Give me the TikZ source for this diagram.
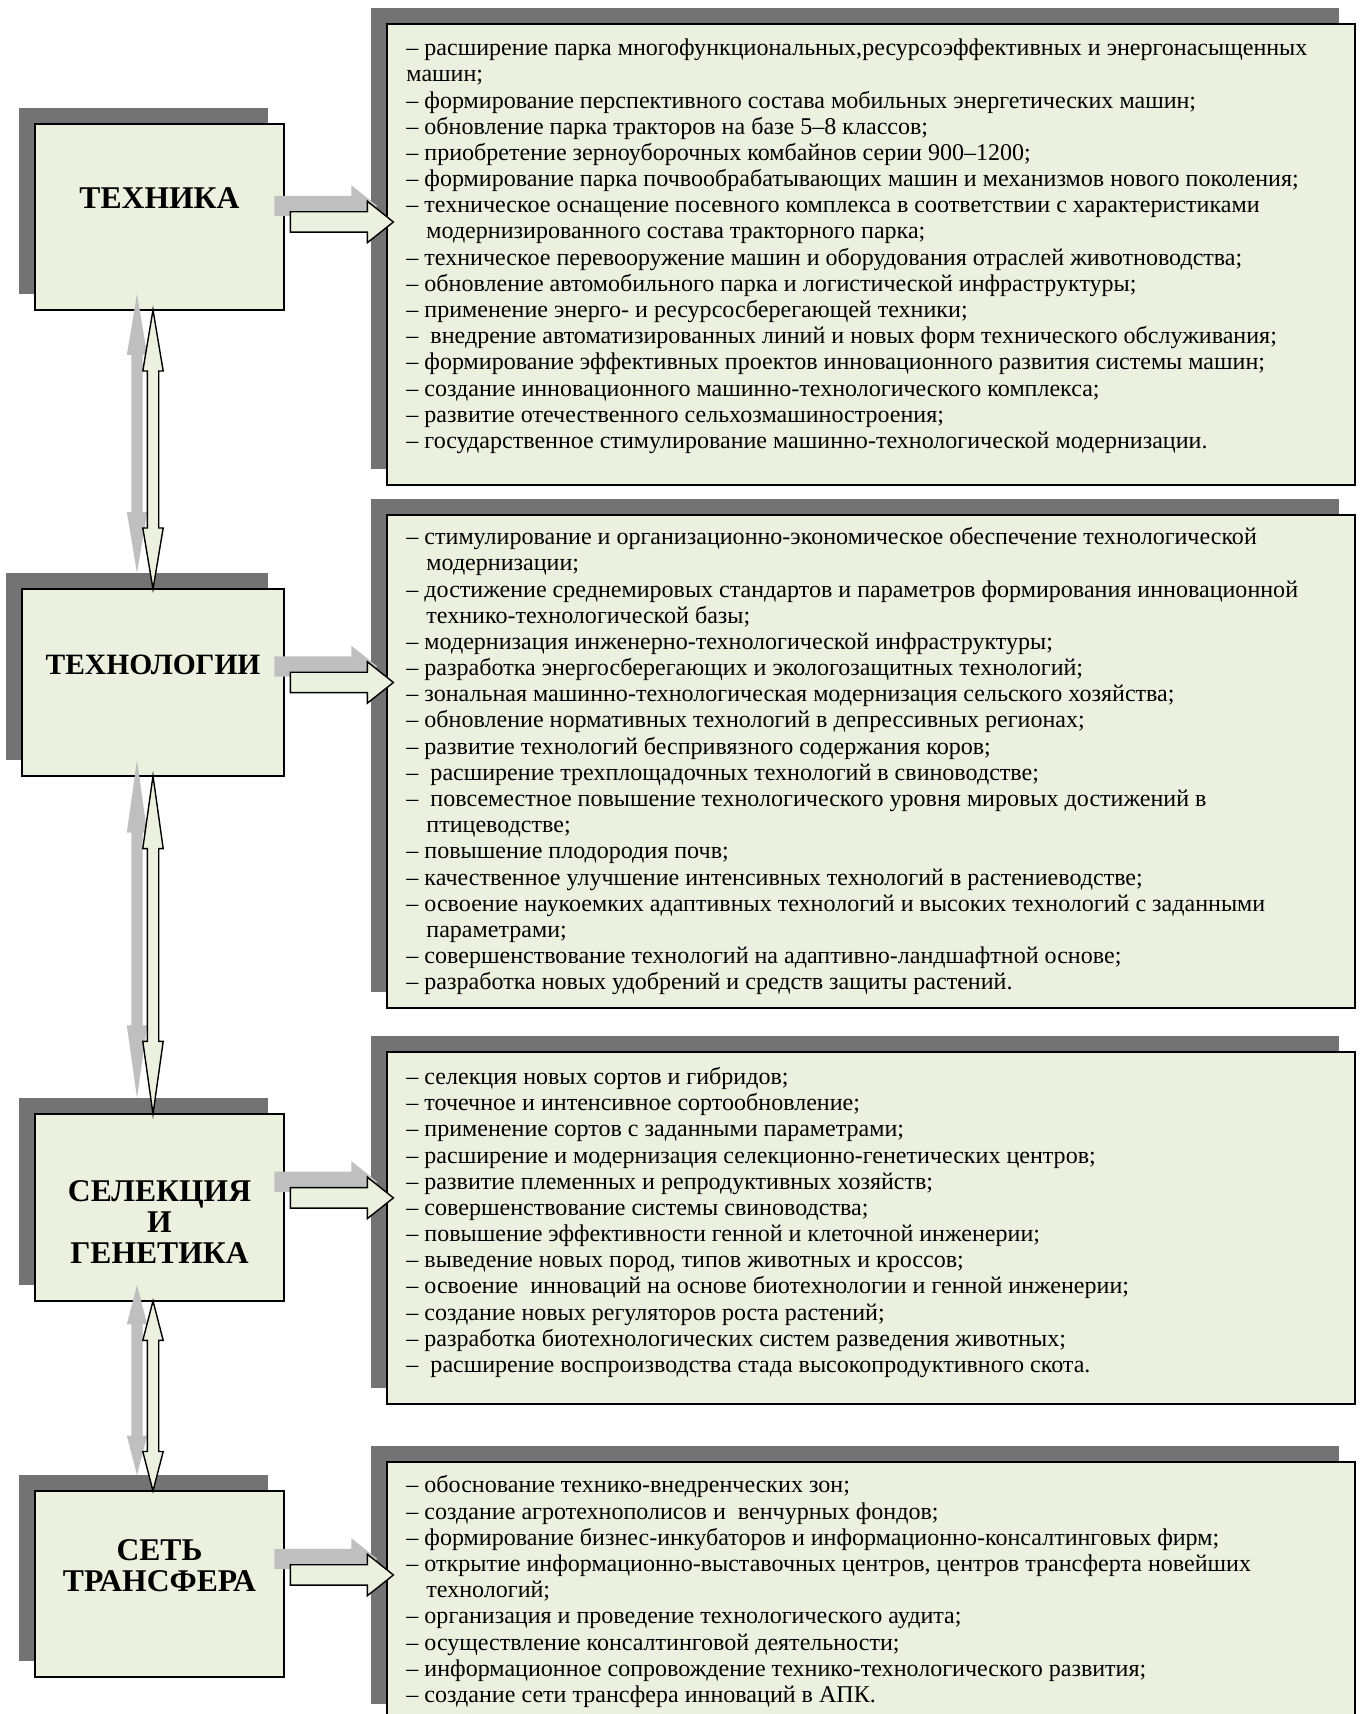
\documentclass[tikz,border=0pt]{standalone}
\usepackage{fontspec}
\setmainfont{Liberation Serif}
\usepackage{xcolor}
\usetikzlibrary{positioning, shapes.arrows, shadows, calc}
\definecolor{paleolive}{HTML}{EBF1DE}
\newcommand{\cnt}{\hspace*{0.5cm}}

\begin{document}
\begin{tikzpicture}[
  sect/.style={draw, line width=1.2pt, fill=paleolive, inner sep=0pt,
    general shadow={fill=black!55, shadow xshift=-0.4cm, shadow yshift=0.4cm}},
  title/.style={font=\fontsize{22.5}{22}\selectfont\bfseries, align=center, inner sep=0pt},
  lst/.style={anchor=north west, align=left, inner sep=0pt, font=\fontsize{17.1}{18.62}\selectfont},
  harrow/.style={single arrow, draw, line width=1pt, fill=paleolive, inner xsep=0pt, inner ysep=0.2375cm,
    minimum height=2.575cm, single arrow head extend=0.2625cm, single arrow tip angle=77,
    general shadow={fill=black!25, shadow xshift=-0.4cm, shadow yshift=0.4cm}},
  varrow/.style={double arrow, draw, line width=1pt, fill=paleolive, shape border rotate=90,
    inner ysep=0pt, inner xsep=0.125cm, double arrow head extend=0.1125cm,
    general shadow={fill=black!25, shadow xshift=-0.4cm, shadow yshift=0.4cm}}
]
  \useasboundingbox (0,0) rectangle (34.1,42.85);
  \coordinate (axis) at (3.825,0);

  % left column
  \node[sect, minimum width=6.225cm, minimum height=4.65cm]  (tech)  at (3.9875,37.425) {};
  \node[sect, minimum width=6.55cm,  minimum height=4.675cm] (tecno) at (3.825,25.7875) {};
  \node[sect, minimum width=6.225cm, minimum height=4.675cm] (selek) at (3.9875,12.6625) {};
  \node[sect, minimum width=6.225cm, minimum height=4.65cm]  (trans) at (3.9875,3.25) {};

  \node[title] (techname)  at ([yshift=0.475cm]tech.center)   {ТЕХНИКА};
  \node[title, font=\fontsize{21}{22}\selectfont\bfseries] (tecnoname) at ([yshift=0.44cm]tecno.center) {ТЕХНОЛОГИИ};
  \node[title] (selekname) at ([yshift=-0.36cm]selek.center)  {СЕЛЕКЦИЯ\\И\\ГЕНЕТИКА};
  \node[title] (transname) at ([yshift=0.45cm]trans.center)   {СЕТЬ\\ТРАНСФЕРА};

  % right column
  \node[sect, minimum width=24.2cm, minimum height=11.525cm] (list1) at (21.775,36.4875) {};
  \node[sect, minimum width=24.2cm, minimum height=12.325cm] (list2) at (21.775,23.8125) {};
  \node[sect, minimum width=24.2cm, minimum height=8.8cm]    (list3) at (21.775,12.15) {};
  \node[sect, minimum width=24.2cm, minimum height=6.45cm]   (list4) at (21.775,3.075) {};

  \node[lst] (text1) at ([shift={(0.5cm,-0.35cm)}]list1.north west) {\strut
    – расширение парка многофункциональных,ресурсоэффективных и энергонасыщенных\\
    машин;\\
    – формирование перспективного состава мобильных энергетических машин;\\
    – обновление парка тракторов на базе 5–8 классов;\\
    – приобретение зерноуборочных комбайнов серии 900–1200;\\
    – формирование парка почвообрабатывающих машин и механизмов нового поколения;\\
    – техническое оснащение посевного комплекса в соответствии с характеристиками\\
    \cnt модернизированного состава тракторного парка;\\
    – техническое перевооружение машин и оборудования отраслей животноводства;\\
    – обновление автомобильного парка и логистической инфраструктуры;\\
    – применение энерго- и ресурсосберегающей техники;\\
    –~ внедрение автоматизированных линий и новых форм технического обслуживания;\\
    – формирование эффективных проектов инновационного развития системы машин;\\
    – создание инновационного машинно-технологического комплекса;\\
    – развитие отечественного сельхозмашиностроения;\\
    – государственное стимулирование машинно-технологической модернизации.};

  \node[lst] (text2) at ([shift={(0.5cm,-0.3cm)}]list2.north west) {\strut
    – стимулирование и организационно-экономическое обеспечение технологической\\
    \cnt модернизации;\\
    – достижение среднемировых стандартов и параметров формирования инновационной\\
    \cnt технико-технологической базы;\\
    – модернизация инженерно-технологической инфраструктуры;\\
    – разработка энергосберегающих и экологозащитных технологий;\\
    – зональная машинно-технологическая модернизация сельского хозяйства;\\
    – обновление нормативных технологий в депрессивных регионах;\\
    – развитие технологий беспривязного содержания коров;\\
    –~ расширение трехплощадочных технологий в свиноводстве;\\
    –~ повсеместное повышение технологического уровня мировых достижений в\\
    \cnt птицеводстве;\\
    – повышение плодородия почв;\\
    – качественное улучшение интенсивных технологий в растениеводстве;\\
    – освоение наукоемких адаптивных технологий и высоких технологий с заданными\\
    \cnt параметрами;\\
    – совершенствование технологий на адаптивно-ландшафтной основе;\\
    – разработка новых удобрений и средств защиты растений.};

  \node[lst] (text3) at ([shift={(0.5cm,-0.37cm)}]list3.north west) {\strut
    – селекция новых сортов и гибридов;\\
    – точечное и интенсивное сортообновление;\\
    – применение сортов с заданными параметрами;\\
    – расширение и модернизация селекционно-генетических центров;\\
    – развитие племенных и репродуктивных хозяйств;\\
    – совершенствование системы свиноводства;\\
    – повышение эффективности генной и клеточной инженерии;\\
    – выведение новых пород, типов животных и кроссов;\\
    – освоение~ инноваций на основе биотехнологии и генной инженерии;\\
    – создание новых регуляторов роста растений;\\
    – разработка биотехнологических систем разведения животных;\\
    –~ расширение воспроизводства стада высокопродуктивного скота.};

  \node[lst] (text4) at ([shift={(0.5cm,-0.33cm)}]list4.north west) {\strut
    – обоснование технико-внедренческих зон;\\
    – создание агротехнополисов и~ венчурных фондов;\\
    – формирование бизнес-инкубаторов и информационно-консалтинговых фирм;\\
    – открытие информационно-выставочных центров, центров трансферта новейших\\
    \cnt технологий;\\
    – организация и проведение технологического аудита;\\
    – осуществление консалтинговой деятельности;\\
    – информационное сопровождение технико-технологического развития;\\
    – создание сети трансфера инноваций в АПК.};

  % links to the lists
  \node[harrow, yshift=-0.125cm] (h1) at ($(tech.east)!0.5!(tech.east -| list1.west)$) {};
  \node[harrow]                  (h2) at ($(tecno.east)!0.5!(tecno.east -| list2.west)$) {};
  \node[harrow, yshift=0.24cm]   (h3) at ($(selek.east)!0.5!(selek.east -| list3.west)$) {};
  \node[harrow, yshift=0.225cm]  (h4) at ($(trans.east)!0.5!(trans.east -| list4.west)$) {};

  % links between the sections
  \node[varrow, minimum height=6.975cm, double arrow tip angle=19] (c1) at ($(tech.south -| axis)!0.5!(tecno.north -| axis)$) {};
  \node[varrow, minimum height=8.45cm,  double arrow tip angle=16] (c2) at ($(tecno.south -| axis)!0.5!(selek.north -| axis)$) {};
  \node[varrow, minimum height=4.75cm,  double arrow tip angle=29] (c3) at ($(selek.south -| axis)!0.5!(trans.north -| axis)$) {};
\end{tikzpicture}
\end{document}
